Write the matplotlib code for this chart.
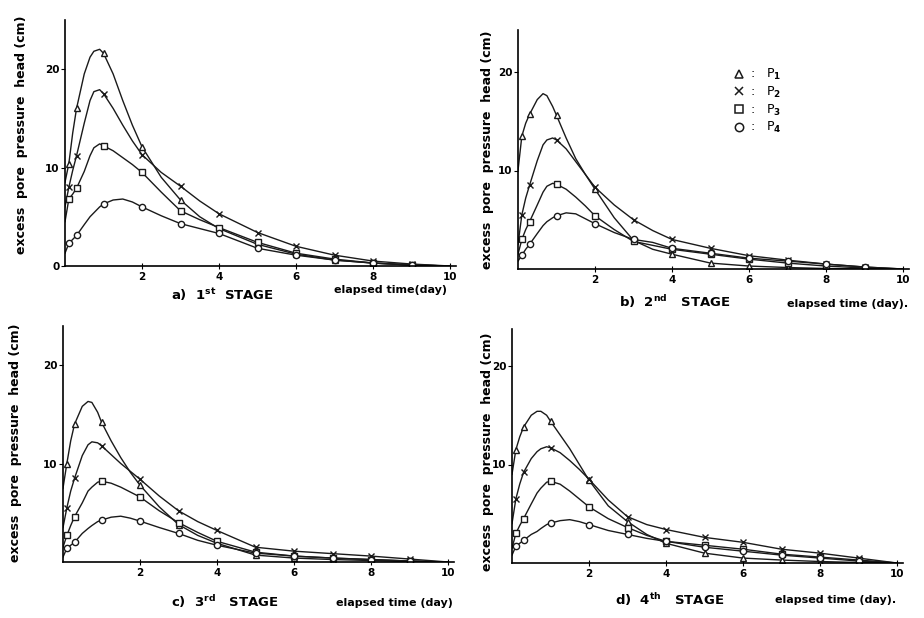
import numpy as np
import matplotlib
matplotlib.use("Agg")
import matplotlib.pyplot as plt
from matplotlib.lines import Line2D

# time axis (day) of the read-off curves; markers sit on a subset of these
t = [0, 0.1, 0.2, 0.3, 0.5, 0.65, 0.75, 0.9, 1, 1.25, 1.5, 1.75, 2, 2.5, 3, 3.5, 4, 5, 6, 7, 8, 9, 10]
mark_idx = [1, 3, 8, 12, 14, 16, 17, 18, 19, 20, 21]

# a) 1st stage
a_p1 = [8.5, 10.4, 13.5, 16.0, 19.5, 21.2, 21.8, 22.0, 21.6, 19.5, 16.8, 14.3, 12.1, 9.0, 6.7, 5.0, 3.8, 2.2, 1.2, 0.6, 0.3, 0.1, 0]
a_p2 = [6.0, 8.0, 9.7, 11.2, 14.5, 16.8, 17.7, 17.9, 17.5, 16.0, 14.3, 12.7, 11.3, 9.5, 8.1, 6.6, 5.3, 3.4, 2.0, 1.1, 0.5, 0.2, 0]
a_p3 = [4.5, 6.8, 7.3, 7.9, 9.6, 11.2, 12.0, 12.4, 12.2, 11.7, 11.0, 10.3, 9.5, 7.5, 5.6, 4.7, 3.9, 2.4, 1.3, 0.7, 0.3, 0.1, 0]
a_p4 = [1.3, 2.3, 2.7, 3.1, 4.2, 5.0, 5.4, 6.0, 6.3, 6.7, 6.8, 6.5, 6.0, 5.1, 4.3, 3.8, 3.3, 1.8, 1.1, 0.6, 0.3, 0.1, 0]

# b) 2nd stage
b_p1 = [10.0, 13.5, 14.8, 15.7, 17.2, 17.8, 17.6, 16.5, 15.6, 13.3, 11.2, 9.6, 8.1, 5.2, 2.9, 2.0, 1.5, 0.6, 0.3, 0.15, 0.05, 0.0, 0]
b_p2 = [2.5, 5.5, 7.2, 8.5, 11.0, 12.6, 13.1, 13.3, 13.1, 12.2, 10.9, 9.6, 8.3, 6.5, 5.0, 3.9, 3.0, 2.1, 1.35, 0.9, 0.5, 0.2, 0]
b_p3 = [1.5, 3.0, 4.0, 4.8, 6.5, 7.8, 8.4, 8.7, 8.6, 8.1, 7.3, 6.4, 5.4, 4.0, 2.8, 2.4, 2.0, 1.5, 1.0, 0.6, 0.3, 0.1, 0]
b_p4 = [0.8, 1.4, 2.0, 2.5, 3.6, 4.4, 4.8, 5.2, 5.4, 5.7, 5.6, 5.1, 4.6, 3.7, 3.0, 2.7, 2.1, 1.6, 1.1, 0.8, 0.5, 0.2, 0]

# c) 3rd stage
c_p1 = [7.5, 10.0, 12.3, 14.0, 15.8, 16.3, 16.2, 15.2, 14.2, 12.3, 10.6, 9.1, 7.8, 5.6, 3.8, 2.7, 1.9, 0.7, 0.4, 0.25, 0.15, 0.05, 0]
c_p2 = [3.5, 5.5, 7.2, 8.5, 10.8, 11.9, 12.2, 12.1, 11.8, 10.9, 10.0, 9.2, 8.4, 6.7, 5.2, 4.1, 3.2, 1.5, 1.1, 0.85, 0.6, 0.3, 0]
c_p3 = [1.5, 2.7, 3.7, 4.6, 6.0, 7.2, 7.6, 8.1, 8.2, 8.0, 7.6, 7.1, 6.6, 5.2, 4.0, 3.0, 2.1, 1.0, 0.6, 0.4, 0.25, 0.1, 0]
c_p4 = [0.5, 1.4, 1.7, 2.0, 2.9, 3.4, 3.7, 4.1, 4.25, 4.55, 4.65, 4.45, 4.15, 3.5, 2.9, 2.2, 1.7, 0.9, 0.6, 0.4, 0.25, 0.1, 0]

# d) 4th stage
d_p1 = [9.0, 11.5, 12.8, 13.8, 15.0, 15.4, 15.4, 15.0, 14.4, 13.0, 11.6, 10.0, 8.4, 5.8, 4.2, 2.9, 2.0, 1.0, 0.5, 0.3, 0.15, 0.05, 0]
d_p2 = [4.0, 6.5, 8.0, 9.2, 10.6, 11.3, 11.6, 11.8, 11.7, 11.2, 10.4, 9.5, 8.5, 6.4, 4.7, 3.9, 3.4, 2.6, 2.1, 1.4, 1.0, 0.5, 0]
d_p3 = [1.5, 3.0, 3.8, 4.5, 6.0, 7.1, 7.6, 8.2, 8.3, 8.0, 7.3, 6.5, 5.7, 4.5, 3.6, 2.8, 2.2, 1.8, 1.4, 0.9, 0.6, 0.3, 0]
d_p4 = [0.8, 1.7, 2.0, 2.3, 2.9, 3.2, 3.5, 3.9, 4.05, 4.3, 4.4, 4.2, 3.9, 3.3, 2.9, 2.5, 2.2, 1.6, 1.2, 0.8, 0.5, 0.2, 0]

markers = ['^', 'x', 's', 'o']
names = ['P$_1$', 'P$_2$', 'P$_3$', 'P$_4$']

# series, axes origin (px), y top, title, title pos, x label, x label pos, y label pos
panels = [
    ([a_p1, a_p2, a_p3, a_p4], [65, 266], 25, 'a)  1$^{\\mathbf{st}}$  STAGE', (222, 295),
     'elapsed time(day)', (390, 290), (22, 135)),
    ([b_p1, b_p2, b_p3, b_p4], [518, 269], 24.3, 'b)  2$^{\\mathbf{nd}}$   STAGE', (675, 302),
     'elapsed time (day).', (848, 304), (487, 150)),
    ([c_p1, c_p2, c_p3, c_p4], [63, 562], 24, 'c)  3$^{\\mathbf{rd}}$   STAGE', (225, 602),
     'elapsed time (day)', (394, 603), (16, 443)),
    ([d_p1, d_p2, d_p3, d_p4], [512, 563], 23.8, 'd)  4$^{\\mathbf{th}}$   STAGE', (670, 600),
     'elapsed time (day).', (836, 600), (487, 452)),
]

W, H = 924, 618
fig = plt.figure(figsize=(9.24, 6.18), dpi=100)
plt.rcParams['font.family'] = 'DejaVu Sans'
plt.rcParams['mathtext.default'] = 'bf'

px_x = 38.5   # pixels per day
px_y = 9.85   # pixels per cm
for k, (series, org, ytop, title, tpos, xl, xpos, ypos) in enumerate(panels):
    x0, y0 = org
    ax = fig.add_axes([x0 / W, 1 - y0 / H, 10.15 * px_x / W, ytop * px_y / H])
    for s, m in zip(series, markers):
        ax.plot(t, s, color='#1a1a1a', lw=1.0, marker=m, markevery=mark_idx,
                ms=4.5, mfc='white' if m != 'x' else '#1a1a1a', mec='#1a1a1a', mew=1.0)
    ax.set_xlim(0, 10.15)
    ax.set_ylim(0, ytop)
    ax.spines['top'].set_visible(False)
    ax.spines['right'].set_visible(False)
    ax.spines['left'].set_linewidth(1.2)
    ax.spines['bottom'].set_linewidth(1.2)
    ax.set_xticks([2, 4, 6, 8, 10])
    ax.set_yticks([0, 10, 20] if k == 0 else [10, 20])
    ax.tick_params(axis='x', direction='inout', length=5, labelsize=7.5, pad=2)
    ax.tick_params(axis='y', direction='out', length=3, labelsize=7.5, pad=1)
    for lab in ax.get_xticklabels() + ax.get_yticklabels():
        lab.set_fontweight('bold')
    ax.patch.set_alpha(0)

    fig.text(tpos[0] / W, 1 - tpos[1] / H, title, ha='center', va='center',
             fontsize=9.5, fontweight='bold')
    fig.text(xpos[0] / W, 1 - xpos[1] / H, xl, ha='center', va='center',
             fontsize=8, fontweight='bold')
    fig.text(ypos[0] / W, 1 - ypos[1] / H, 'excess  pore  pressure  head (cm)',
             rotation=90, ha='center', va='center', fontsize=9, fontweight='bold')

    if k == 1:
        handles = [Line2D([], [], ls='none', marker=m, color='#1a1a1a', ms=6,
                          mfc='white' if m != 'x' else '#1a1a1a', mew=1.1) for m in markers]
        ax.legend(handles, [':   ' + n for n in names], loc='upper left',
                  bbox_to_anchor=(0.52, 0.89), frameon=False, fontsize=9,
                  handletextpad=0.4, labelspacing=0.2, handlelength=1.0)

fig.savefig('out.png', dpi=100)
